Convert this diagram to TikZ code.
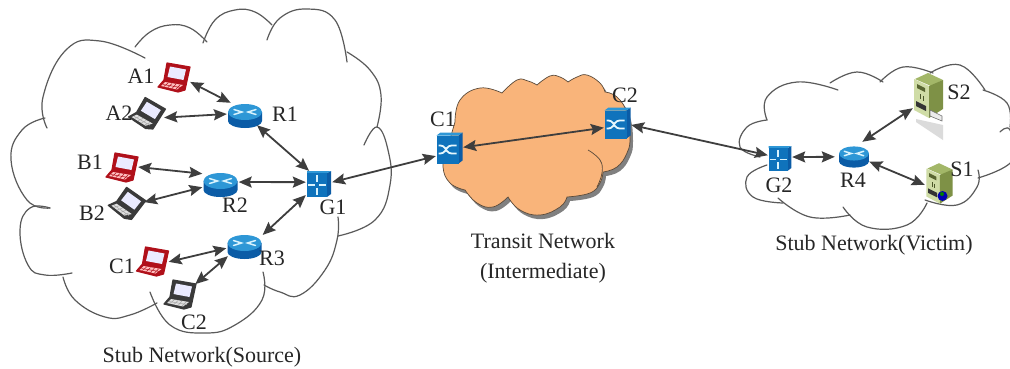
\documentclass[tikz,border=0pt]{standalone}
\usepackage{fontspec}
\setmainfont{Liberation Serif}
\usetikzlibrary{arrows.meta}
\definecolor{inkc}{HTML}{3E3E3E}
\definecolor{cloudc}{HTML}{5A5A5A}
\definecolor{orangec}{HTML}{F9B47A}
\definecolor{orangeline}{HTML}{5A4A3A}
\definecolor{blued}{HTML}{0B5CA6}
\definecolor{bluem}{HTML}{0F73BC}
\definecolor{bluel}{HTML}{2E97D6}
\definecolor{lapred}{HTML}{B0101A}
\definecolor{lapdark}{HTML}{3A3A3A}
\definecolor{olived}{HTML}{7E9146}
\definecolor{olivem}{HTML}{A3B768}
\definecolor{olivel}{HTML}{CFDCA6}
\newcommand\lobe[1]{\draw[cloudline] plot[smooth,tension=.75] coordinates{#1};}
\newcommand\transitpath{plot[smooth,tension=.75] coordinates{(455,122)(460,100)(480,88)(502,93)}
 -- plot[smooth,tension=.75] coordinates{(502,93)(517,80)(528,81)(537,85)}
 -- plot[smooth,tension=.75] coordinates{(537,85)(550,76)(560,77)(568,82)}
 -- plot[smooth,tension=.75] coordinates{(568,82)(577,77)(587,75)(600,83)(605,92)}
 -- plot[smooth,tension=.75] coordinates{(605,92)(617,97)(627,113)(630,137)(627,153)(617,167)(603,172)}
 -- plot[smooth,tension=.75] coordinates{(603,172)(600,183)(590,193)(567,197)}
 -- plot[smooth,tension=.75] coordinates{(567,197)(560,207)(540,215)(520,210)(508,197)}
 -- plot[smooth,tension=.75] coordinates{(508,197)(493,207)(477,203)(465,190)}
 -- plot[smooth,tension=.75] coordinates{(465,190)(450,183)(443,167)(447,150)(455,122)} -- cycle}
\newcommand\laptopbody[3]{
  \fill[#1,draw=#1,line width=1.2pt,line join=round] (-7,-14)--(16,-10)--(11,13)--(4,15)--(-16,10)--(-10,3)--cycle;
  \fill[white!92!blue] (-4,-10.5)--(12,-7.5)--(9.5,3)--(-6.5,0)--cycle;
  \fill[#2] (-9,5)--(9,8)--(3,12.5)--(-13,9)--cycle;
  \draw[#3,line width=.5pt] (-6,6)--(-10,9.5) (-2,6.5)--(-6,10.5) (2,7)--(-2,11.5) (6,8)--(2,12) (-11,7.5)--(7,10.5);
}
\tikzset{
  x=1pt,y=-1pt,
  cloudline/.style={draw=cloudc,line width=1.2pt,line cap=round},
  link/.style={draw=inkc,line width=1.8pt,{Stealth[length=13pt,width=11pt,inset=2pt]}-{Stealth[length=13pt,width=11pt,inset=2pt]}},
  lab/.style={font=\fontsize{22}{30}\selectfont,text=black!85,inner sep=0pt,align=center},
  iconbox/.style={rectangle,inner sep=0pt,minimum width=#1},
  laptopred/.pic={\laptopbody{lapred}{red!25!white}{lapred}},
  laptopdark/.pic={\laptopbody{lapdark}{white!88!black}{black!35}},
  router/.pic={
    \fill[blued] (-17,-4) -- (-17,5) arc[start angle=180,end angle=360,x radius=17,y radius=-7] -- (17,-4) -- cycle;
    \fill[bluel] (0,-4) ellipse[x radius=17,y radius=8];
    \draw[white!85!cyan,line width=1.5pt,line cap=round]
      (-11,-6.5)--(-3,-4)--(-11,-1.5) (11,-6.5)--(3,-4)--(11,-1.5);
  },
  gswitch/.pic={
    \fill[blued] (8,-11)--(12,-13)--(12,10)--(8,13)--cycle;
    \fill[bluel] (-12,-13)--(12,-13)--(8,-11)--(-12,-11)--cycle;
    \fill[bluem] (-12,-11) rectangle (8,13);
    \draw[white!85!cyan,line width=1.3pt] (-2,-9)--(-2,-2) (-2,4)--(-2,11) (-11,1)--(-4,1) (0,1)--(7,1);
  },
  xswitch/.pic={
    \fill[blued] (9,-13)--(13,-16)--(13,12)--(9,15)--cycle;
    \fill[bluel] (-13,-13)--(-9,-16)--(13,-16)--(9,-13)--cycle;
    \fill[bluem] (-13,-13) rectangle (9,15);
    \draw[white!90!cyan,line width=1.8pt,rounded corners=3pt]
      (-11,-3)--(-6,-3)--(-1,5)--(7,5) (-11,5)--(-6,5)--(-1,-3)--(7,-3);
  },
  server/.pic={
    \fill[olivem] (0,-22)--(15,-15)--(3,-9)--(-13,-16)--cycle;
    \fill[olivel] (-14,-16)--(1,-9)--(1,23)--(-14,15)--cycle;
    \fill[olived] (1,-9)--(15,-15)--(15,14)--(1,23)--cycle;
    \fill[black!80] (-12,6)--(-2,11)--(-2,16)--(-12,11)--cycle;
    \fill[olived!70!black] (-11,-11)--(-3,-7)--(-3,-3)--(-11,-7)--cycle;
    \draw[olived!60!black,line width=.6pt] (-8,-1)--(-8,4) (-5,1)--(-5,6);
  },
}
\begin{document}
\begin{tikzpicture}[x=1pt,y=-1pt]
\useasboundingbox[fill=white] (0,0) rectangle (1010,368);

% source cloud
\lobe{(47,128)(43,97)(66,50)(100,41)(145,58)}
\lobe{(135,47)(150,32)(170,25)(190,28)(207,42)}
\lobe{(203,43)(215,20)(235,10)(255,12)(272,25)}
\lobe{(267,40)(280,18)(307,9)(335,20)(347,62)}
\lobe{(347,52)(370,70)(381,95)(377,127)}
\lobe{(364,145)(377,127)(388,150)(390,185)(375,220)(338,236)}
\lobe{(338,217)(337,240)(325,270)(300,295)(280,292)(264,285)}
\lobe{(263,272)(262,300)(235,325)(205,333)(170,325)(150,292)}
\lobe{(157,303)(130,315)(105,317)(75,300)(63,277)}
\lobe{(72,273)(45,275)(28,265)(20,230)(30,208)(50,208)}
\lobe{(45,118)(22,130)(11,160)(27,200)(50,208)}

% transit cloud
\fill[black!50,shift={(3,4)}] \transitpath;
\path[fill=orangec,draw=orangeline,line width=.7pt] \transitpath;
\draw[orangeline,line width=.7pt] plot[smooth,tension=.75] coordinates{(588,150)(600,160)(602,173)(597,187)};

% victim cloud
\lobe{(767,120)(767,97)(797,82)(838,90)}
\lobe{(830,83)(857,72)(883,82)}
\lobe{(880,82)(903,67)(933,73)}
\lobe{(930,73)(960,65)(985,90)}
\lobe{(983,90)(1007,103)(1010,127)}
\lobe{(1000,132)(1010,130)(1013,160)(978,178)}
\lobe{(978,170)(977,187)(957,205)(925,200)}
\lobe{(927,203)(907,225)(867,227)(843,207)}
\lobe{(850,215)(810,217)(778,198)}
\lobe{(783,203)(753,197)(747,177)(767,165)}
\lobe{(767,120)(747,127)(740,147)(760,157)}

% icon nodes (invisible, sized as the icons)
\node[iconbox=32pt,minimum height=30pt] (a1) at (174,77) {};
\node[iconbox=34pt,minimum height=30pt] (a2) at (147,113) {};
\node[iconbox=32pt,minimum height=30pt] (b1) at (122,167) {};
\node[iconbox=34pt,minimum height=32pt] (b2) at (127,203) {};
\node[iconbox=32pt,minimum height=28pt] (c1n) at (152.5,261) {};
\node[iconbox=30pt,minimum height=28pt] (c2n) at (180,294) {};
\node[iconbox=36pt,minimum height=22pt] (r1) at (245,114) {};
\node[iconbox=36pt,minimum height=22pt] (r2) at (220.5,183) {};
\node[iconbox=36pt,minimum height=22pt] (r3) at (244.5,245) {};
\node[iconbox=34pt,minimum height=26pt] (r4) at (852,155) {};
\node[iconbox=26pt,minimum height=26pt] (g1) at (319,184) {};
\node[iconbox=24pt,minimum height=27pt] (g2) at (780,158.5) {};
\node[iconbox=27pt,minimum height=31pt] (sw1) at (449.5,148.5) {};
\node[iconbox=27pt,minimum height=31pt] (sw2) at (617.5,123.5) {};
\node[iconbox=30pt,minimum height=45pt] (s2) at (928,95) {};
\node[iconbox=27pt,minimum height=40pt] (s1) at (938.5,183) {};

% icons
\pic at (a1) {laptopred};
\pic[rotate=-20] at (a2) {laptopdark};
\pic at (b1) {laptopred};
\pic[rotate=-25] at (b2) {laptopdark};
\pic at (c1n) {laptopred};
\pic at (c2n) {laptopdark};
\pic at (245,116) {router};
\pic at (220.5,185) {router};
\pic at (244.5,247) {router};
\pic[scale=.88] at (854,157) {router};
\pic at (319,184) {gswitch};
\pic[scale=.95] at (780,158.5) {gswitch};
\pic at (449.5,148.5) {xswitch};
\pic at (617.5,123.5) {xswitch};
\fill[black!14] (916,119)--(943,125)--(943,140)--(916,122)--cycle;
\pic at (928,95) {server};
\fill[white!92!black,draw=black!55,line width=.6pt] (930,110)--(942,116)--(942,121)--(930,116)--cycle;
\pic[scale=.9] at (939,183) {server};
\fill[blue!70!black] (942.5,196) circle[radius=5];
\fill[green!50!black] (942,194) circle[radius=2];

% connectors
\draw[link] (a1.-17) -- (r1.142);
\draw[link] (a2.-15) -- (r1.180);
\draw[link] (r1.-43) -- (g1.127);
\draw[link] (b1.0) -- (r2.153);
\draw[link] (b2.3) -- (r2.193);
\draw[link] (r2.3) -- (g1.172);
\draw[link] (r3.29) -- (g1.220);
\draw[link] (c1n.-3) -- (r3.190);
\draw[link] (c2n.33) -- (r3.214);
\draw[link] (g1.8) -- (sw1.209);
\draw[link] (sw1.5) -- (sw2.197);
\draw[link] (sw2.-6) -- (g2.165);
\draw[link] (g2.7) -- (r4.-174);
\draw[link] (r4.52) -- (s2.221);
\draw[link] (r4.-21) -- (s1.188);

% labels
\node[lab] (la1) at (141,76) {A1};
\node[lab] (la2) at (119,113) {A2};
\node[lab] (lr1) at (285,114) {R1};
\node[lab] (lb1) at (90,162) {B1};
\node[lab] (lb2) at (92,213) {B2};
\node[lab] (lr2) at (235,205) {R2};
\node[lab] (lg1) at (333,207) {G1};
\node[lab] (lr3) at (272,258) {R3};
\node[lab] (lc1) at (122,266) {C1};
\node[lab] (lc2) at (194,322) {C2};
\node[lab] (lsrc) at (202,357) {Stub Network(Source)};
\node[lab] (lsw1) at (443,119) {C1};
\node[lab] (lsw2) at (625,95) {C2};
\node[lab] (ltr) at (543,258) {Transit Network\\(Intermediate)};
\node[lab] (lg2) at (779,185) {G2};
\node[lab] (lr4) at (853,180) {R4};
\node[lab] (ls2) at (959,92) {S2};
\node[lab] (ls1) at (962,169) {S1};
\node[lab] (lvic) at (874,245) {Stub Network(Victim)};
\end{tikzpicture}
\end{document}
